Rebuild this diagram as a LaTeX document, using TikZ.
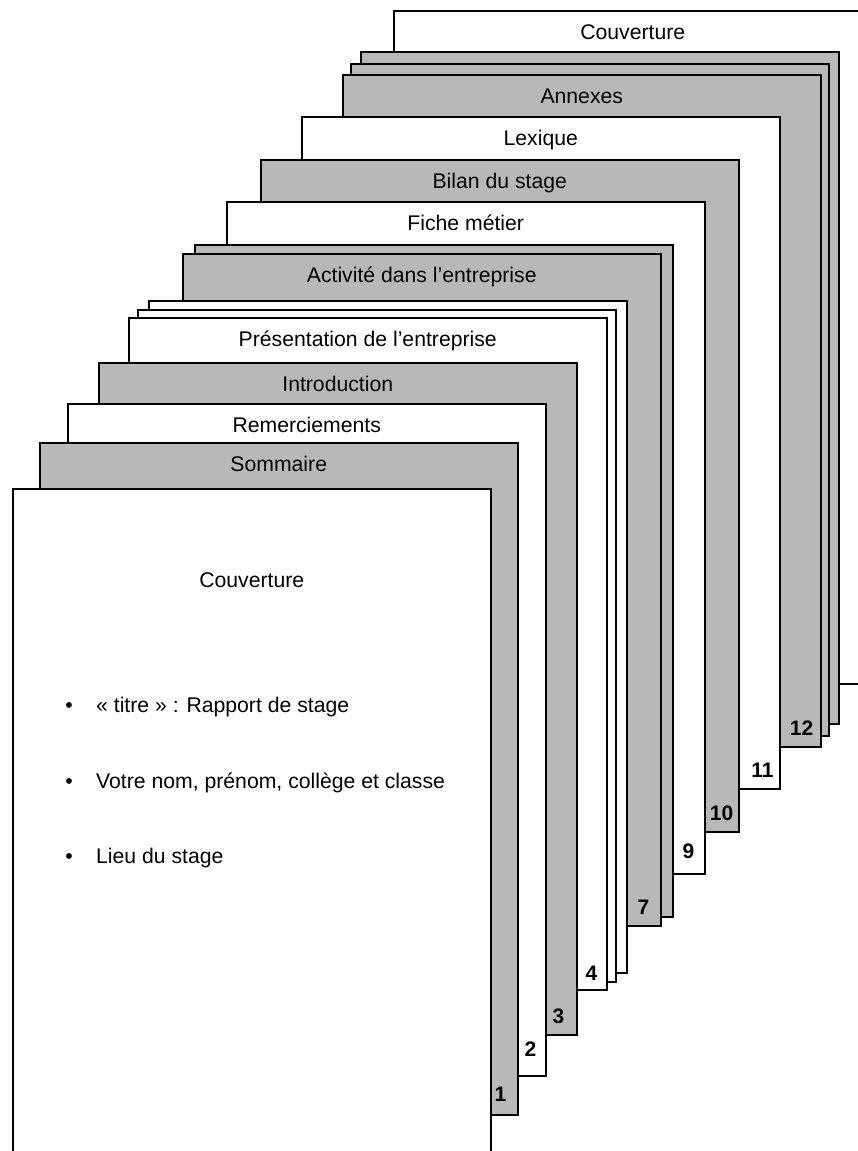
\documentclass[tikz,border=0pt]{standalone}
\usepackage{fontspec}
\setmainfont{Liberation Sans}
\usetikzlibrary{calc}
\definecolor{pagegray}{RGB}{184,184,184}
\begin{document}
\begin{tikzpicture}[x=1pt,y=-1pt,
  page/.style={rectangle, draw=black, line width=1.5pt, minimum width=478pt, minimum height=672pt, inner sep=0pt, anchor=north west},
  graypage/.style={page, fill=pagegray},
  whitepage/.style={page, fill=white},
  title/.style={font=\fontsize{21.2}{25}\selectfont, inner sep=0pt, anchor=base},
  num/.style={font=\fontsize{21}{25}\selectfont\bfseries, inner sep=0pt, anchor=base}]
\useasboundingbox (0,0) rectangle (858,1151);
\clip (0,0) rectangle (858,1151);
% back cover
\node[whitepage, minimum height=673pt] (back) at (393,10) {};
\node[title] (tback) at ($(back.north)+(0,29)$) {Couverture};
% pages from back to front
\node[graypage] (p14) at (360,51) {};
\node[graypage] (p13) at (350,63) {};
\node[graypage] (p12) at (342,74) {};
\node[title] at ($(p12.north)+(0,29)$) {Annexes};
\node[num] at ($(p12.south east)+(-20,-12.5)$) {12};
\node[whitepage] (p11) at (301,116) {};
\node[title] at ($(p11.north)+(0,29)$) {Lexique};
\node[num] at ($(p11.south east)+(-18,-12.5)$) {11};
\node[graypage] (p10) at (260,159) {};
\node[title] at ($(p10.north)+(0,29)$) {Bilan du stage};
\node[num] at ($(p10.south east)+(-18,-12.5)$) {10};
\node[whitepage] (p9) at (226,201) {};
\node[title] at ($(p9.north)+(0,29)$) {Fiche métier};
\node[num] at ($(p9.south east)+(-17,-16)$) {9};
\node[graypage] (p8) at (194,244) {};
\node[graypage] (p7) at (182,253) {};
\node[title] at ($(p7.north)+(0,29)$) {Activité dans l’entreprise};
\node[num] at ($(p7.south east)+(-18,-12.5)$) {7};
\node[whitepage] (p6) at (148,300) {};
\node[whitepage] (p5) at (137,309) {};
\node[whitepage] (p4) at (128,317) {};
\node[title] at ($(p4.north)+(0,29)$) {Présentation de l’entreprise};
\node[num] at ($(p4.south east)+(-16,-10.5)$) {4};
\node[graypage] (p3) at (98,362) {};
\node[title] at ($(p3.north)+(0,29)$) {Introduction};
\node[num] at ($(p3.south east)+(-19,-12.5)$) {3};
\node[whitepage] (p2) at (67,403) {};
\node[title] at ($(p2.north)+(0,29)$) {Remerciements};
\node[num] at ($(p2.south east)+(-16,-20)$) {2};
\node[graypage] (p1) at (39,442) {};
\node[title] at ($(p1.north)+(0,29)$) {Sommaire};
\node[num] at ($(p1.south east)+(-18,-14)$) {1};
% front cover
\node[whitepage] (front) at (12,488) {};
\node[title] (tfront) at ($(front.north)+(0,99.5)$) {Couverture};
\node[title] (b1) at (69,712.5) {•};
\node[title, anchor=base west] (l1) at (96,712.5) {« titre » : Rapport de stage};
\node[title] (b2) at (69,788) {•};
\node[title, anchor=base west] (l2) at (96,788) {Votre nom, prénom, collège et classe};
\node[title] (b3) at (69,863) {•};
\node[title, anchor=base west] (l3) at (96,863) {Lieu du stage};
\end{tikzpicture}
\end{document}
